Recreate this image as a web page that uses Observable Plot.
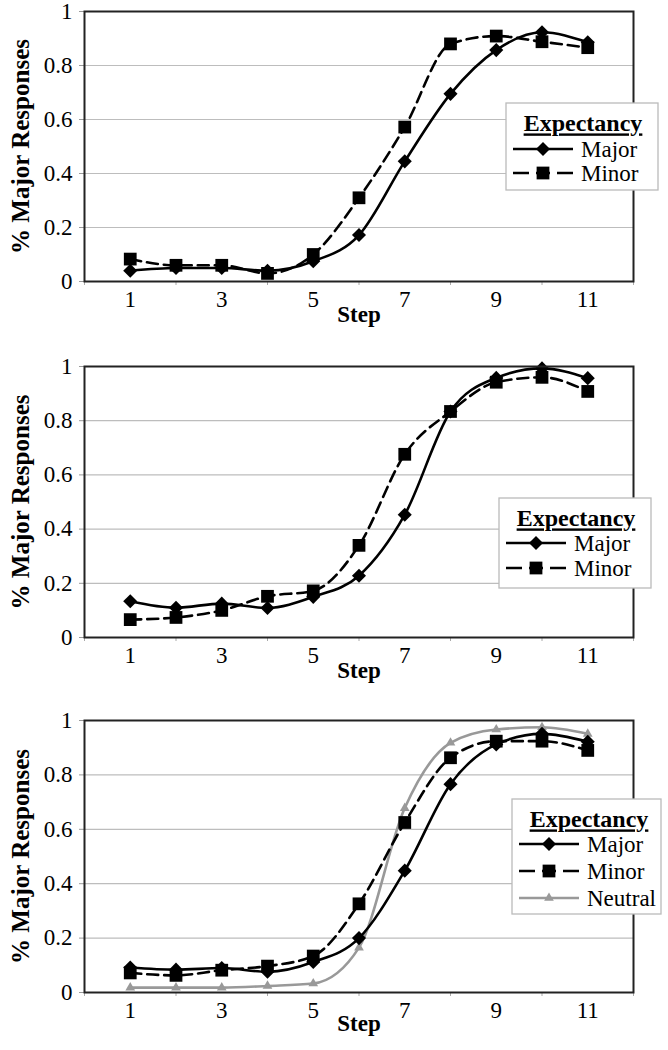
<!DOCTYPE html>
<html><head><meta charset="utf-8">
<script src="https://cdn.jsdelivr.net/npm/d3@7"></script>
<script src="https://cdn.jsdelivr.net/npm/@observablehq/plot@0.6"></script>
<style>
body{margin:0;background:#fff;font-family:"Liberation Serif",serif;}
#wrap{width:668px;}
#wrap svg{display:block;}
</style></head><body>
<div id="wrap"></div>
<script>
// ---- data ----
const steps = [1,2,3,4,5,6,7,8,9,10,11];
const xTicks = [1,3,5,7,9,11];
const yTicks = [0,0.2,0.4,0.6,0.8,1];
const gridTicks = [0.2,0.4,0.6,0.8];
const seriesNames = ["Major","Minor","Neutral"];
const legendTitle = "Expectancy";
const yLabel = "% Major Responses";
const xLabel = "Step";

const p1Major = [0.04,0.05,0.05,0.04,0.075,0.172,0.445,0.695,0.857,0.923,0.886];
const p1Minor = [0.083,0.06,0.06,0.03,0.10,0.31,0.572,0.88,0.909,0.888,0.866];

const p2Major = [0.134,0.11,0.125,0.109,0.15,0.228,0.453,0.834,0.958,0.993,0.957];
const p2Minor = [0.066,0.074,0.10,0.152,0.172,0.34,0.676,0.834,0.942,0.96,0.908];

const p3Major = [0.092,0.084,0.09,0.076,0.112,0.20,0.448,0.766,0.912,0.951,0.922];
const p3Minor = [0.072,0.063,0.082,0.097,0.134,0.326,0.625,0.863,0.924,0.924,0.89];
const p3Neutral = [0.018,0.018,0.018,0.024,0.033,0.165,0.678,0.918,0.967,0.975,0.951];

// ---- styles ----
const FONT = "Liberation Serif";
const diamondSymbol = {
  draw(ctx, size) {
    const r = Math.sqrt(size) * 0.62;
    ctx.moveTo(0, -r); ctx.lineTo(r, 0); ctx.lineTo(0, r); ctx.lineTo(-r, 0); ctx.closePath();
  }
};
const styles = {
  Major:   {stroke: "#000", dash: null, symbol: diamondSymbol, r: 6.4, fill: "#000"},
  Minor:   {stroke: "#000", dash: "11,6", symbol: "square", r: 7.2, fill: "#000"},
  Neutral: {stroke: "#999", dash: null, symbol: "triangle", r: 3.6, fill: "#999"}
};

function makePanel(cfg, eps) {
  const series = cfg.series.map((vals, k) => ({name: seriesNames[k], values: vals}));
  const fs = 23 + eps;
  const marks = [
    Plot.gridY(gridTicks, {stroke: "#bdbdbd", strokeOpacity: 1, strokeWidth: 1.2}),
    Plot.axisY(yTicks, {tickSize: 5, tickPadding: 7, stroke: "#999", fontSize: fs,
      tickFormat: d => d === 0 ? "0" : d === 1 ? "1" : String(d), label: null}),
    Plot.axisX(d3.range(0, 13, 2), {tickSize: 4, stroke: "#aaa", tickFormat: () => "", label: null}),
    Plot.axisX(xTicks, {tickSize: 0, tickPadding: 9, fontSize: fs, label: null}),
    Plot.text([yLabel], {frameAnchor: "left", rotate: -90, dx: -64, textAnchor: "middle",
      fontWeight: "bold", fontSize: 25 + eps}),
    Plot.text([xLabel], {frameAnchor: "bottom", dy: cfg.stepDy, textAnchor: "middle", fontWeight: "bold", fontSize: fs})
  ];
  const rank = {Neutral: 0, Minor: 1, Major: 2};
  const order = series.slice().sort((a, b) => rank[a.name] - rank[b.name]);
  for (const s of order) {
    const st = styles[s.name];
    const d = s.values.map((v, i) => ({step: steps[i], value: v}));
    marks.push(Plot.line(d, {x: "step", y: "value", stroke: st.stroke, strokeWidth: 2.6,
      strokeDasharray: st.dash, curve: "monotone-x"}));
    marks.push(Plot.dot(d, {x: "step", y: "value", symbol: st.symbol, r: st.r, fill: st.fill, stroke: "none"}));
  }
  marks.push(Plot.frame({stroke: "#222", strokeWidth: 2}));

  const svg = Plot.plot({
    width: 668, height: cfg.height,
    marginLeft: 84, marginRight: 35, marginTop: cfg.top, marginBottom: cfg.bottom,
    x: {domain: [0, 12]},
    y: {domain: [0, 1]},
    style: {fontFamily: FONT, fontSize: "22px", color: "#000", background: "#fff", overflow: "visible"},
    marks
  });

  // legend box (drawn in pixel space on the svg)
  const L = cfg.legend;
  const g = d3.select(svg).append("g").attr("text-anchor", "start");
  g.append("rect").attr("x", L.x).attr("y", L.y).attr("width", L.w).attr("height", L.h)
    .attr("fill", "#fff").attr("stroke", "#bbb").attr("stroke-width", 1.3);
  g.append("text").attr("x", L.x + 77).attr("y", L.y + 20).attr("dy", "0.35em").attr("text-anchor", "middle")
    .attr("font-weight", "bold").attr("font-size", 24 + eps).attr("text-decoration", "underline").text(legendTitle);
  series.forEach((s, k) => {
    const st = styles[s.name];
    const yy = L.y + L.row0 + k * L.rowH;
    const x0 = L.x + 7, x1 = L.x + 67, xm = (x0 + x1) / 2;
    g.append("line").attr("x1", x0).attr("x2", x1).attr("y1", yy).attr("y2", yy)
      .attr("stroke", st.stroke).attr("stroke-width", 2.6)
      .attr("stroke-dasharray", s.name === "Minor" ? "16,7,14,7,16" : null);
    const sym = d3.symbol().type(s.name === "Major" ? diamondSymbol : s.name === "Minor" ? d3.symbolSquare : d3.symbolTriangle)
      .size(Math.PI * st.r * st.r)();
    g.append("path").attr("d", sym).attr("transform", `translate(${xm},${yy})`).attr("fill", st.fill);
    g.append("text").attr("x", L.x + 75).attr("y", yy).attr("dy", "0.35em").attr("text-anchor", "start")
      .attr("font-size", fs).text(s.name);
  });
  d3.select(svg).selectAll("text").style("font-family", "'Liberation Serif', serif");
  return svg;
}

const panels = [
  {series: [p1Major, p1Minor], height: 350, top: 11, bottom: 69, stepDy: 40,
    legend: {x: 506, y: 103, w: 152, h: 87, row0: 46, rowH: 24}},
  {series: [p2Major, p2Minor], height: 350, top: 16, bottom: 63, stepDy: 40,
    legend: {x: 499, y: 498 - 350, w: 152, h: 90, row0: 45, rowH: 25}},
  {series: [p3Major, p3Minor, p3Neutral], height: 350, top: 20, bottom: 58, stepDy: 38,
    legend: {x: 512, y: 799 - 700, w: 149, h: 115, row0: 45, rowH: 27}}
];

function render(eps) {
  const wrap = document.getElementById("wrap");
  const svgs = panels.map(p => makePanel(p, eps));
  wrap.replaceChildren(...svgs);
}
render(0);
setTimeout(() => render(0.01), 30);
if (document.fonts) {
  Promise.all([
    document.fonts.load("23px 'Liberation Serif'"),
    document.fonts.load("bold 23px 'Liberation Serif'")
  ]).then(() => render(0.02)).catch(() => {});
}
setTimeout(() => render(0.03), 250);
</script>
</body></html>
